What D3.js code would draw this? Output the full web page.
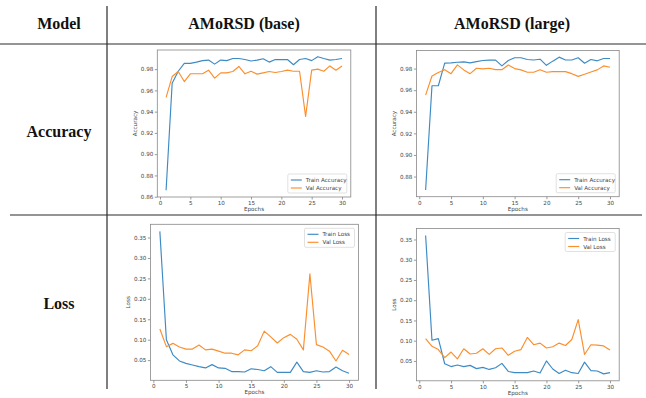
<!DOCTYPE html>
<html>
<head>
<meta charset="utf-8">
<script src="https://cdn.jsdelivr.net/npm/d3@7"></script>
<style>
  body { margin: 0; background: #fff; }
  svg { display: block; }
</style>
</head>
<body>
<svg id="fig" width="646" height="398"></svg>
<script>
/* global d3 */

const EPOCHS = [1,2,3,4,5,6,7,8,9,10,11,12,13,14,15,16,17,18,19,20,21,22,23,24,25,26,27,28,29,30];
const X_TICKS = [0, 5, 10, 15, 20, 25, 30];

const ACC_TICKS_BASE = [0.86, 0.88, 0.90, 0.92, 0.94, 0.96, 0.98];
const ACC_TICKS_LARGE = [0.88, 0.90, 0.92, 0.94, 0.96, 0.98];
const LOSS_TICKS = [0.05, 0.10, 0.15, 0.20, 0.25, 0.30, 0.35];

const MODELS = ['AMoRSD (base)', 'AMoRSD (large)'];
const ROWS = ['Accuracy', 'Loss'];

// AMoRSD (base)
const baseTrainAcc = [0.8660,0.9667,0.9780,0.9854,0.9854,0.9866,0.9880,0.9885,0.9847,0.9885,
  0.9880,0.9900,0.9900,0.9890,0.9876,0.9885,0.9898,0.9866,0.9890,0.9890,
  0.9890,0.9841,0.9890,0.9900,0.9880,0.9917,0.9900,0.9885,0.9890,0.9900];
const baseValAcc = [0.9535,0.9730,0.9778,0.9683,0.9756,0.9756,0.9756,0.9790,0.9715,0.9765,
  0.9765,0.9778,0.9825,0.9756,0.9780,0.9753,0.9765,0.9778,0.9768,0.9778,
  0.9790,0.9780,0.9780,0.9355,0.9790,0.9800,0.9780,0.9830,0.9790,0.9830];
const baseTrainLoss = [0.365,0.100,0.063,0.048,0.042,0.038,0.034,0.031,0.039,0.031,
  0.030,0.022,0.022,0.021,0.029,0.027,0.024,0.034,0.020,0.020,
  0.020,0.045,0.022,0.020,0.024,0.021,0.022,0.033,0.024,0.018];
const baseValLoss = [0.126,0.083,0.091,0.082,0.077,0.077,0.087,0.075,0.077,0.072,
  0.067,0.067,0.063,0.075,0.073,0.085,0.121,0.107,0.092,0.105,
  0.113,0.101,0.075,0.261,0.088,0.082,0.072,0.048,0.074,0.064];

// AMoRSD (large)
const largeTrainAcc = [0.8675,0.9641,0.9641,0.9850,0.9853,0.9859,0.9862,0.9853,0.9865,0.9875,
  0.9878,0.9878,0.9825,0.9875,0.9900,0.9900,0.9884,0.9880,0.9887,0.9830,
  0.9869,0.9906,0.9880,0.9880,0.9900,0.9850,0.9884,0.9872,0.9893,0.9893];
const largeValAcc = [0.9554,0.9731,0.9763,0.9790,0.9753,0.9834,0.9788,0.9753,0.9803,0.9797,
  0.9803,0.9790,0.9790,0.9834,0.9800,0.9788,0.9766,0.9766,0.9790,0.9766,
  0.9772,0.9772,0.9772,0.9753,0.9728,0.9747,0.9769,0.9788,0.9825,0.9812];
const largeTrainLoss = [0.360,0.101,0.105,0.043,0.036,0.040,0.036,0.039,0.031,0.034,
  0.029,0.033,0.044,0.024,0.021,0.021,0.021,0.025,0.020,0.050,
  0.030,0.019,0.027,0.021,0.019,0.047,0.026,0.025,0.018,0.021];
const largeValLoss = [0.105,0.086,0.078,0.058,0.072,0.055,0.080,0.067,0.069,0.080,
  0.066,0.080,0.082,0.064,0.074,0.078,0.108,0.090,0.094,0.082,
  0.085,0.094,0.088,0.103,0.152,0.066,0.090,0.089,0.087,0.077];

const BLUE = '#3d8ac4';
const ORANGE = '#fb8f2e';
const TXT = '#444';
const SMALL = 5.6;

const svg = d3.select('#fig');

// table grid
const grid = svg.append('g').attr('stroke', '#2b2b2b').attr('stroke-width', 1.2);
grid.append('line').attr('x1', 0).attr('x2', 646).attr('y1', 44).attr('y2', 44);
grid.append('line').attr('x1', 10).attr('x2', 642).attr('y1', 215).attr('y2', 215);
grid.append('line').attr('x1', 107).attr('x2', 107).attr('y1', 6).attr('y2', 389);
grid.append('line').attr('x1', 376).attr('x2', 376).attr('y1', 6).attr('y2', 389);

const serif = "'Liberation Serif', 'Times New Roman', serif";
function headText(x, y, s) {
  svg.append('text').attr('x', x).attr('y', y)
    .attr('text-anchor', 'middle')
    .attr('font-family', serif).attr('font-weight', 'bold')
    .attr('font-size', 16).attr('fill', '#111')
    .text(s);
}
headText(59, 29, 'Model');
headText(244, 29, MODELS[0]);
headText(512, 29, MODELS[1]);
headText(59, 137, ROWS[0]);
headText(59, 309, ROWS[1]);

function maxOf(arrs) { return d3.max(arrs, a => d3.max(a)); }
function minOf(arrs) { return d3.min(arrs, a => d3.min(a)); }

function drawPanel(p) {
  const g = svg.append('g');
  const lo = minOf(p.series.map(s => s.values));
  const hi = maxOf(p.series.map(s => s.values));
  const pad = (hi - lo) * 0.05;

  const x = d3.scaleLinear().domain([1 - 29 * 0.05, 30 + 29 * 0.05]).range([p.left, p.right]);
  const y = d3.scaleLinear().domain([lo - pad, hi + pad]).range([p.bottom, p.top]);

  const xAxis = g.append('g')
    .attr('transform', `translate(0,${p.bottom})`)
    .call(d3.axisBottom(x).tickValues(X_TICKS).tickFormat(d3.format('d')).tickSize(2.5).tickPadding(1.5));
  const yAxis = g.append('g')
    .attr('transform', `translate(${p.left},0)`)
    .call(d3.axisLeft(y).tickValues(p.ticks).tickFormat(d3.format('.2f')).tickSize(2.5).tickPadding(1.5));
  [xAxis, yAxis].forEach(a => {
    a.select('.domain').remove();
    a.selectAll('line').attr('stroke', '#555').attr('stroke-width', 0.6);
    a.selectAll('text').attr('font-family', 'DejaVu Sans, sans-serif')
      .attr('font-size', SMALL).attr('fill', TXT);
  });

  const line = d3.line().x((d, i) => x(EPOCHS[i])).y(d => y(d));
  p.series.forEach(s => {
    g.append('path').datum(s.values)
      .attr('fill', 'none').attr('stroke', s.color)
      .attr('stroke-width', 1.15).attr('stroke-linejoin', 'round')
      .attr('d', line);
  });

  g.append('rect')
    .attr('x', p.left).attr('y', p.top)
    .attr('width', p.right - p.left).attr('height', p.bottom - p.top)
    .attr('fill', 'none').attr('stroke', '#888').attr('stroke-width', 0.8);

  g.append('text')
    .attr('x', (p.left + p.right) / 2).attr('y', p.bottom + 14)
    .attr('text-anchor', 'middle')
    .attr('font-family', 'DejaVu Sans, sans-serif').attr('font-size', SMALL).attr('fill', TXT)
    .text('Epochs');
  g.append('text')
    .attr('transform', `translate(${p.left - 20.5},${(p.top + p.bottom) / 2}) rotate(-90)`)
    .attr('text-anchor', 'middle')
    .attr('font-family', 'DejaVu Sans, sans-serif').attr('font-size', SMALL).attr('fill', TXT)
    .text(p.ylabel);

  // legend
  const lw = p.legendW, lh = 19, inset = 4;
  const lx = p.right - inset - lw;
  const ly = p.legendAt === 'bottom' ? p.bottom - inset - lh : p.top + inset;
  const lg = g.append('g').attr('transform', `translate(${lx},${ly})`);
  lg.append('rect').attr('width', lw).attr('height', lh).attr('rx', 1.5)
    .attr('fill', '#fff').attr('fill-opacity', 0.85)
    .attr('stroke', '#ccc').attr('stroke-width', 0.6);
  p.series.forEach((s, i) => {
    const cy = 6 + i * 8;
    lg.append('line').attr('x1', 3).attr('x2', 14).attr('y1', cy).attr('y2', cy)
      .attr('stroke', s.color).attr('stroke-width', 1.15);
    lg.append('text').attr('x', 18).attr('y', cy + 2)
      .attr('font-family', 'DejaVu Sans, sans-serif').attr('font-size', SMALL).attr('fill', TXT)
      .text(s.name);
  });
}

drawPanel({
  left: 157.3, right: 350.8, top: 50, bottom: 197,
  ticks: ACC_TICKS_BASE, ylabel: 'Accuracy', legendAt: 'bottom', legendW: 59,
  series: [
    { name: 'Train Accuracy', values: baseTrainAcc, color: BLUE },
    { name: 'Val Accuracy', values: baseValAcc, color: ORANGE }
  ]
});
drawPanel({
  left: 416.4, right: 619.2, top: 50.5, bottom: 196.7,
  ticks: ACC_TICKS_LARGE, ylabel: 'Accuracy', legendAt: 'bottom', legendW: 59,
  series: [
    { name: 'Train Accuracy', values: largeTrainAcc, color: BLUE },
    { name: 'Val Accuracy', values: largeValAcc, color: ORANGE }
  ]
});
drawPanel({
  left: 150.4, right: 358.5, top: 224.3, bottom: 380.3,
  ticks: LOSS_TICKS, ylabel: 'Loss', legendAt: 'top', legendW: 50,
  series: [
    { name: 'Train Loss', values: baseTrainLoss, color: BLUE },
    { name: 'Val Loss', values: baseValLoss, color: ORANGE }
  ]
});
drawPanel({
  left: 416.4, right: 619.2, top: 228.5, bottom: 380.8,
  ticks: LOSS_TICKS, ylabel: 'Loss', legendAt: 'top', legendW: 50,
  series: [
    { name: 'Train Loss', values: largeTrainLoss, color: BLUE },
    { name: 'Val Loss', values: largeValLoss, color: ORANGE }
  ]
});
</script>
</body>
</html>
